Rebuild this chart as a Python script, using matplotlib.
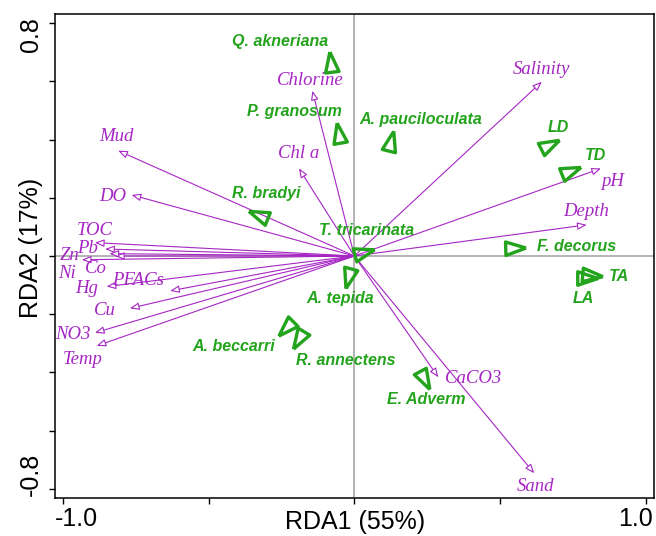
import numpy as np
import matplotlib
matplotlib.use('Agg')
import matplotlib.pyplot as plt
from matplotlib.markers import MarkerStyle
from matplotlib.transforms import Affine2D

# Environmental variables: arrow tips and label positions
env_names = ['Mud', 'DO', 'Chlorine', 'Chl a', 'TOC', 'Pb', 'Zn', 'Ni', 'Co', 'Hg',
             'PFACs', 'Cu', 'NO3', 'Temp', 'Salinity', 'pH', 'Depth', 'CaCO3', 'Sand']
env_x = [-0.810, -0.764, -0.144, -0.190, -0.890, -0.855, -0.935, -0.821, -0.840, -0.850,
         -0.632, -0.770, -0.890, -0.884, 0.643, 0.846, 0.797, 0.288, 0.617]
env_y = [0.362, 0.210, 0.568, 0.301, 0.046, 0.024, -0.013, 0.000, 0.008, -0.105,
         -0.120, -0.180, -0.264, -0.309, 0.599, 0.301, 0.107, -0.417, -0.747]
env_lab_x = [-0.815, -0.830, -0.150, -0.192, -0.890, -0.916, -0.978, -0.987, -0.886, -0.918,
             -0.742, -0.855, -0.965, -0.933, 0.643, 0.887, 0.795, 0.408, 0.620]
env_lab_y = [0.410, 0.206, 0.603, 0.353, 0.089, 0.026, 0.001, -0.059, -0.042, -0.111,
             -0.083, -0.188, -0.269, -0.355, 0.642, 0.255, 0.152, -0.420, -0.793]

# Species scores (triangles), orientation and labels
sp_names = ['Q. akneriana', 'P. granosum', 'A. pauciloculata', 'R. bradyi', 'T. tricarinata',
            'A. tepida', 'A. beccarri', 'R. annectens', 'E. Adverm', 'LD', 'TD',
            'F. decorus', 'TA', 'LA']
sp_x = [-0.079, -0.053, 0.124, -0.319, 0.022, -0.019, -0.229, -0.186, 0.234, 0.660, 0.734,
        0.541, 0.805, 0.787]
sp_y = [0.658, 0.412, 0.384, 0.136, 0.012, -0.065, -0.240, -0.279, -0.417, 0.378, 0.290,
        0.029, -0.065, -0.077]
sp_angle = [7, 10, -14, 68, -74, 165, 135, 149, -152, -63, -68, -88, -95, -90]
sp_lab_x = [-0.255, -0.204, 0.228, -0.301, 0.043, -0.049, -0.415, -0.028, 0.248, 0.700, 0.826,
            0.761, 0.906, 0.786]
sp_lab_y = [0.737, 0.496, 0.470, 0.216, 0.089, -0.145, -0.312, -0.360, -0.495, 0.442, 0.344,
            0.032, -0.071, -0.145]

magenta = '#A626C4'
green = '#23A41C'

fig = plt.figure(figsize=(6.56, 5.36), dpi=100)
ax = fig.add_axes([55/656, 38.3/536, 599/656, 483.7/536])
ax.set_xlim(-1.027, 1.028)
ax.set_ylim(-0.831, 0.832)

ax.axhline(0, color='#a8a8a8', lw=1.2, zorder=1)
ax.axvline(0, color='#a8a8a8', lw=1.2, zorder=1)

# Environmental arrows
for name, x, y, lx, ly in zip(env_names, env_x, env_y, env_lab_x, env_lab_y):
    ax.annotate('', xy=(x, y), xytext=(0, 0),
                arrowprops=dict(arrowstyle='-|>,head_length=0.55,head_width=0.22',
                                fc='white', ec=magenta, lw=0.8,
                                shrinkA=0, shrinkB=0, mutation_scale=10), zorder=2)
    ax.text(lx, ly, name, color=magenta, fontsize=13.5, family='Liberation Serif',
            style='italic', ha='center', va='center', zorder=3)

# Species triangles
tri = [(0, 1), (-0.5, -0.5), (0.5, -0.5), (0, 1)]
for name, x, y, a, lx, ly in zip(sp_names, sp_x, sp_y, sp_angle, sp_lab_x, sp_lab_y):
    m = MarkerStyle(tri, transform=Affine2D().rotate_deg(a))
    ax.plot(x, y, marker=m, ms=19.5, mfc='none', mec=green, mew=2.4, ls='none', zorder=4)
    ax.text(lx, ly, name, color=green, fontsize=11.5, family='Liberation Sans',
            style='italic', weight='bold', ha='center', va='center', zorder=5)

# Axes frame and ticks
for s in ax.spines.values():
    s.set_linewidth(1.1)
ax.set_xticks([-1.0, -0.5, 0.0, 0.5, 1.0])
ax.set_yticks([-0.8, -0.6, -0.4, -0.2, 0.0, 0.2, 0.4, 0.6, 0.8])
ax.set_xticklabels([])
ax.set_yticklabels([])
ax.tick_params(direction='out', length=4, width=1)

tick_font = dict(family='Liberation Sans', fontsize=18)
xtr = ax.get_xaxis_transform()
ytr = ax.get_yaxis_transform()
ax.text(-0.953, -0.045, '-1.0', transform=xtr, ha='center', va='center', **tick_font)
ax.text(0.965, -0.045, '1.0', transform=xtr, ha='center', va='center', **tick_font)
ax.text(-0.04, 0.762, '0.8', transform=ytr, ha='center', va='center', rotation=90, **tick_font)
ax.text(-0.04, -0.750, '-0.8', transform=ytr, ha='center', va='center', rotation=90, **tick_font)

fig.text(355.5/656, 1 - 522/536, 'RDA1 (55%)', ha='center', va='center', **tick_font)
fig.text(31/656, 1 - 248/536, 'RDA2 (17%)', ha='center', va='center', rotation=90, **tick_font)

plt.savefig('out.png', dpi=100)
